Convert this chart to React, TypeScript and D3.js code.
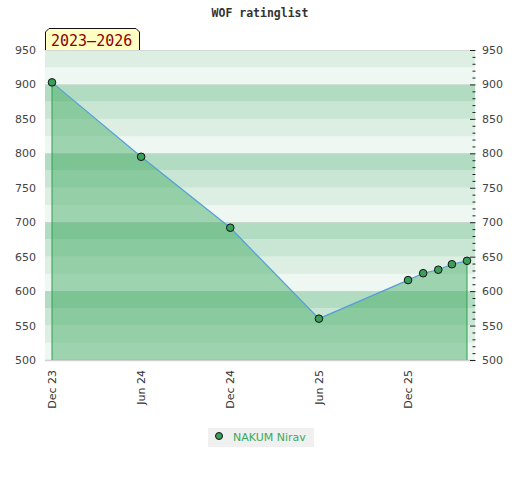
import * as d3 from "d3";

// rating history
const dates = ["2023-12", "2024-06", "2024-12", "2025-06", "2025-12", "2026-01", "2026-02", "2026-03", "2026-04"];
const ratings = [903, 795, 692, 560, 616, 626, 631, 639, 644];
const xTickDates = ["2023-12", "2024-06", "2024-12", "2025-06", "2025-12"];
const yTicks = [500, 550, 600, 650, 700, 750, 800, 850, 900, 950];
const playerName = "NAKUM Nirav";
const periodLabel = "2023–2026";
const chartTitle = "WOF ratinglist";

const W = 520;
const H = 480;
const plot = { left: 45, right: 475, top: 50, bottom: 360 };

const parse = d3.timeParse("%Y-%m");
const fmt = d3.timeFormat("%b %y");

// background band colours, by position inside each 100-point block (from top)
const bandColors = ["#b2dcc2", "#c8e6d3", "#dcefe2", "#eef7f1"];

export default function App() {
  const pts = dates.map((d, i) => ({ date: parse(d)!, value: ratings[i] }));

  const x = d3
    .scaleTime()
    .domain([parse("2023-12")!, parse("2026-04")!])
    .range([52, 467]);
  const y = d3.scaleLinear().domain([500, 950]).range([plot.bottom, plot.top]);

  const bands = d3.range(500, 950, 25).map(lo => {
    const hi = lo + 25;
    const idx = Math.floor(((hi % 100) === 0 ? 0 : (100 - (hi % 100)) / 25));
    return { lo, hi, color: bandColors[idx] };
  });

  const area = d3
    .area<{ date: Date; value: number }>()
    .x(d => x(d.date))
    .y0(y(500))
    .y1(d => y(d.value));
  const line = d3
    .line<{ date: Date; value: number }>()
    .x(d => x(d.date))
    .y(d => y(d.value));

  const first = pts[0];
  const last = pts[pts.length - 1];
  const minor = d3.range(500, 951, 10);

  const bx0 = 45, bx1 = 140, by0 = 28, by1 = 50, cut = 4;

  return (
    <svg
      width={W}
      height={H}
      style={{ position: "absolute", left: 0, top: 0, display: "block" }}
      fontFamily="DejaVu Sans, sans-serif"
    >
      <rect width={W} height={H} fill="#fff" />
      <text
        x={260}
        y={17}
        textAnchor="middle"
        fontFamily="DejaVu Sans Mono, monospace"
        fontWeight="bold"
        fontSize={11.5}
        fill="#333"
      >
        {chartTitle}
      </text>

      {/* bands */}
      {bands.map(b => (
        <rect
          key={b.lo}
          x={plot.left}
          width={plot.right - plot.left}
          y={y(b.hi)}
          height={y(b.lo) - y(b.hi)}
          fill={b.color}
        />
      ))}
      {[600, 700, 800, 900].map(v => (
        <line key={v} x1={plot.left} x2={plot.right} y1={y(v) + 0.5} y2={y(v) + 0.5} stroke="#c6d4ca" />
      ))}
      <line x1={plot.left} x2={plot.right} y1={plot.top + 0.5} y2={plot.top + 0.5} stroke="#d2d8d4" />
      <line x1={plot.left} x2={plot.right} y1={plot.bottom + 0.5} y2={plot.bottom + 0.5} stroke="#d0d0d0" strokeWidth={1.5} />

      {/* area + line */}
      <path d={area(pts)!} fill="rgb(56,166,90)" fillOpacity={0.44} />
      <line x1={x(first.date)} x2={x(first.date)} y1={y(first.value)} y2={y(500)} stroke="#2ea04e" />
      <line x1={x(last.date)} x2={x(last.date)} y1={y(last.value)} y2={y(500)} stroke="#2ea04e" />
      <path d={line(pts)!} fill="none" stroke="#559fd8" strokeWidth={1.2} />
      {pts.map((p, i) => (
        <circle key={i} cx={x(p.date)} cy={y(p.value)} r={3.8} fill="#3a9e5c" stroke="#111" strokeWidth={1} />
      ))}

      {/* right minor ticks */}
      {minor.map(v => (
        <line
          key={v}
          x1={v % 50 === 0 ? 470 : 472.5}
          x2={475.5}
          y1={y(v) + 0.5}
          y2={y(v) + 0.5}
          stroke="#222"
        />
      ))}

      {/* y labels */}
      {yTicks.map(v => (
        <g key={v} fontSize={11} fill="#444">
          <text x={36} y={y(v) + 4} textAnchor="end">{v}</text>
          <text x={482} y={y(v) + 4}>{v}</text>
        </g>
      ))}

      {/* x labels */}
      {xTickDates.map(d => {
        const t = parse(d)!;
        return (
          <text
            key={d}
            transform={`translate(${x(t) + 4},370) rotate(-90)`}
            textAnchor="end"
            fontSize={11}
            fill="#333"
          >
            {fmt(t)}
          </text>
        );
      })}

      {/* period label */}
      <path
        d={`M${bx0 + 0.5},${by1} L${bx0 + 0.5},${by0 + cut} L${bx0 + cut},${by0 + 0.5} L${bx1 - cut},${by0 + 0.5} L${bx1 - 0.5},${by0 + cut} L${bx1 - 0.5},${by1}`}
        fill="#ffffc4"
        stroke="#111"
      />
      <text x={51} y={46} fontFamily="DejaVu Sans Mono, monospace" fontSize={15} fill="#8b0000">
        {periodLabel}
      </text>

      {/* legend */}
      <rect x={208} y={428} width={106} height={19} fill="#f0f0f0" />
      <circle cx={219} cy={436} r={3.5} fill="#3a9e5c" stroke="#111" />
      <text x={233} y={440.5} fontSize={11} fill="#3aaa5a">{playerName}</text>
    </svg>
  );
}
